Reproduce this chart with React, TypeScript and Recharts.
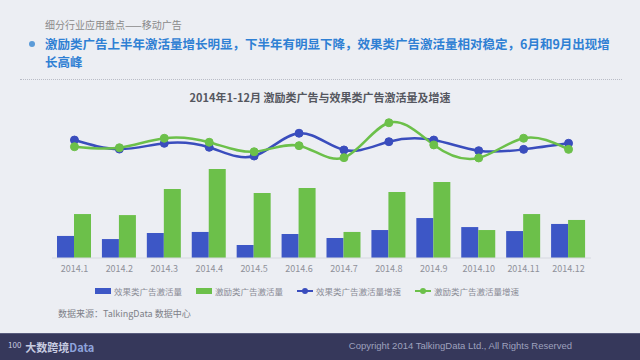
import React from 'react';
import { ComposedChart, Bar, Line, XAxis, YAxis } from 'recharts';

// monthly categories
const months = [
  '2014.1', '2014.2', '2014.3', '2014.4', '2014.5', '2014.6',
  '2014.7', '2014.8', '2014.9', '2014.10', '2014.11', '2014.12',
];

// activation volume (relative index)
const effectVolume = [14.9, 12.8, 16.9, 17.6, 8.8, 16.2, 13.5, 18.9, 27.0, 20.9, 18.2, 23.0];
const incentiveVolume = [29.7, 29.0, 46.6, 60.1, 43.9, 47.3, 17.6, 44.6, 51.4, 18.9, 29.7, 25.7];

// growth rates (%)
const effectGrowth = [79.7, 73.6, 77.5, 74.8, 68.9, 84.3, 73.0, 78.6, 79.7, 72.5, 73.4, 77.5];
const incentiveGrowth = [75.2, 74.5, 80.9, 78.2, 71.8, 75.9, 67.8, 91.4, 76.4, 67.6, 80.9, 73.4];

const seriesNames = ['效果类广告激活量', '激励类广告激活量', '效果类广告激活量增速', '激励类广告激活量增速'];

const BLUE = '#3d57c6';
const BLUE_LINE = '#3a4dbd';
const GREEN = '#6cc04a';
const FONT = '"Noto Sans CJK SC", "Noto Sans", sans-serif';

const data = months.map((m, i) => ({
  month: m,
  effect: effectVolume[i],
  incentive: incentiveVolume[i],
  effectGrowth: effectGrowth[i],
  incentiveGrowth: incentiveGrowth[i],
}));

function LegendItem({ kind, color, label, left }: { kind: 'rect' | 'line'; color: string; label: string; left: number }) {
  return (
    <div style={{ position: 'absolute', left, top: 284, height: 14, display: 'flex', alignItems: 'center' }}>
      {kind === 'rect' ? (
        <div style={{ width: 16, height: 6, background: color, marginRight: 3 }} />
      ) : (
        <svg width={16} height={8} style={{ marginRight: 3 }}>
          <line x1={0} y1={4} x2={16} y2={4} stroke={color} strokeWidth={2} />
          <circle cx={8} cy={4} r={3} fill={color} />
        </svg>
      )}
      <span style={{ fontSize: 8.5, color: '#8a8c96', whiteSpace: 'nowrap' }}>{label}</span>
    </div>
  );
}

export default function App() {
  return (
    <div
      style={{
        position: 'absolute',
        left: 0,
        top: 0,
        width: 640,
        height: 360,
        overflow: 'hidden',
        background: '#eceef3',
        fontFamily: FONT,
      }}
    >
      {/* header */}
      <div style={{ position: 'absolute', left: 45, top: 17, fontSize: 10, color: '#8a8a8a', whiteSpace: 'nowrap' }}>
        细分行业应用盘点——移动广告
      </div>
      <div style={{ position: 'absolute', left: 29, top: 41, width: 6, height: 6, borderRadius: 3, background: '#5b9bd8' }} />
      <div
        style={{
          position: 'absolute',
          left: 45,
          top: 35,
          fontSize: 12.5,
          lineHeight: '18px',
          fontWeight: 700,
          color: '#2f80d4',
          whiteSpace: 'nowrap',
        }}
      >
        激励类广告上半年激活量增长明显，下半年有明显下降，效果类广告激活量相对稳定，6月和9月出现增
        <br />
        长高峰
      </div>
      <div style={{ position: 'absolute', left: 20, top: 79, width: 602, borderTop: '1px dotted #b9bcc6' }} />

      {/* chart title */}
      <div
        style={{
          position: 'absolute',
          left: 0,
          width: 640,
          top: 89,
          textAlign: 'center',
          fontSize: 11,
          fontWeight: 700,
          color: '#55575f',
          paddingRight: 0,
          boxSizing: 'border-box',
          whiteSpace: 'nowrap',
        }}
      >
        <span style={{ position: 'relative', left: 0 }}>2014年1-12月 激励类广告与效果类广告激活量及增速</span>
      </div>

      <div style={{ position: 'absolute', left: 0, top: 0 }}>
        <ComposedChart
          width={640}
          height={288}
          data={data}
          margin={{ top: 110, right: 49, bottom: 0, left: 52 }}
          barGap={0}
          barSize={17}
        >
          <XAxis
            dataKey="month"
            tickLine={false}
            axisLine={{ stroke: '#d6d8e0' }}
            tick={{ fontSize: 9, fill: '#8f919a', fontFamily: FONT }}
            interval={0}
          />
          <YAxis yAxisId="vol" hide domain={[0, 100]} />
          <YAxis yAxisId="rate" hide orientation="right" domain={[0, 100]} />
          <Bar yAxisId="vol" dataKey="effect" name={seriesNames[0]} fill={BLUE} isAnimationActive={false} />
          <Bar yAxisId="vol" dataKey="incentive" name={seriesNames[1]} fill={GREEN} isAnimationActive={false} />
          <Line
            yAxisId="rate"
            type="natural"
            dataKey="effectGrowth"
            name={seriesNames[2]}
            stroke={BLUE_LINE}
            strokeWidth={2.5}
            dot={{ r: 4, fill: BLUE_LINE, stroke: BLUE_LINE, strokeWidth: 1 }}
            isAnimationActive={false}
          />
          <Line
            yAxisId="rate"
            type="natural"
            dataKey="incentiveGrowth"
            name={seriesNames[3]}
            stroke={GREEN}
            strokeWidth={2.5}
            dot={{ r: 4, fill: GREEN, stroke: GREEN, strokeWidth: 1 }}
            isAnimationActive={false}
          />
        </ComposedChart>
      </div>

      {/* legend */}
      <LegendItem kind="rect" color={BLUE} label={seriesNames[0]} left={95} />
      <LegendItem kind="rect" color={GREEN} label={seriesNames[1]} left={196} />
      <LegendItem kind="line" color={BLUE_LINE} label={seriesNames[2]} left={297} />
      <LegendItem kind="line" color={GREEN} label={seriesNames[3]} left={415} />

      {/* source */}
      <div style={{ position: 'absolute', left: 58, top: 307, fontSize: 9, color: '#7d7f88', whiteSpace: 'nowrap' }}>
        数据来源：TalkingData 数据中心
      </div>

      {/* footer */}
      <div
        style={{
          position: 'absolute',
          left: 0,
          top: 333,
          width: 640,
          height: 27,
          background: '#36385b',
          borderTop: '1px solid #585b7c',
        }}
      >
        <div style={{ position: 'absolute', left: 8, top: 5, fontSize: 11, color: '#c7cbe0', whiteSpace: 'nowrap' }}>
          <span style={{ fontSize: 8, verticalAlign: 'top' }}>100</span>
          <span style={{ fontWeight: 700, marginLeft: 4 }}>大数跨境</span>
          <span style={{ color: '#8ea3dc', fontWeight: 700 }}>Data</span>
        </div>
        <div
          style={{
            position: 'absolute',
            right: 68,
            top: 6,
            fontSize: 9.5,
            color: '#9ea1bd',
            fontFamily: '"Liberation Sans", Arial, sans-serif',
            whiteSpace: 'nowrap',
          }}
        >
          Copyright 2014 TalkingData Ltd., All Rights Reserved
        </div>
      </div>
    </div>
  );
}
